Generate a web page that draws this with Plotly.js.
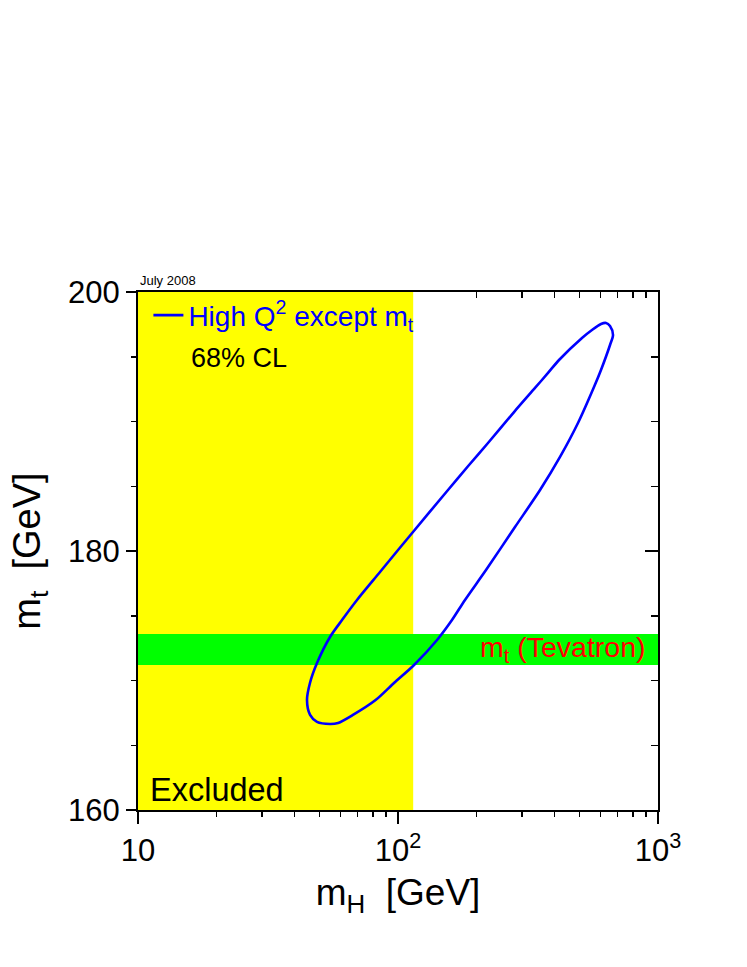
<!DOCTYPE html>
<html>
<head>
<meta charset="utf-8">
<script src="https://cdn.plot.ly/plotly-3.0.1.min.js"></script>
<style>html,body{margin:0;padding:0;background:#fff;}#plot{width:747px;height:967px;}</style>
</head>
<body>
<div id="plot"></div>
<script>
// Data (68% CL contour)
const contourMH = [44.67, 45.86, 48.81, 54.77, 60.91, 69.55, 85.27, 114.2, 155.7, 187.6, 221.9, 279.4, 336.5, 377.6, 416.2, 510.1, 557.3, 603.6, 631.0, 653.8, 671.4, 653.8, 603.6, 567.3, 492.3, 419.9, 351.8, 281.8, 218.0, 181.0, 161.3, 141.3, 115.3, 96.5, 82.0, 67.1, 58.8, 54.8, 48.8, 45.9];
const contourMT = [168.49, 169.81, 171.35, 173.36, 174.67, 176.22, 178.38, 181.47, 184.71, 186.64, 188.34, 190.73, 192.59, 193.75, 194.75, 196.45, 197.07, 197.53, 197.61, 197.37, 196.68, 195.91, 193.98, 192.66, 189.88, 187.26, 184.71, 181.85, 178.53, 176.22, 174.67, 173.13, 171.20, 169.81, 168.49, 167.34, 166.72, 166.64, 166.80, 167.34];
const excludedMH = [10, 114.4];       // LEP direct search exclusion
const mtRange = [160, 200];
const mHRange = [10, 1000];
const tevatronMt = 172.4;
const tevatronErr = 1.2;
const xTickVals = [10, 100, 1000];
const xTickText = ["10", "10<sup>2</sup>", "10<sup>3</sup>"];
const xMinorVals = [20, 30, 40, 50, 60, 70, 80, 90, 200, 300, 400, 500, 600, 700, 800, 900];
const yTickVals = [160, 180, 200];
const yTickText = ["160", "180", "200"];

const FONT = "Liberation Sans, Arial, Helvetica, sans-serif";

// close the contour
const cx = contourMH.concat([contourMH[0]]);
const cy = contourMT.concat([contourMT[0]]);

const traces = [
  { // excluded region
    x: [excludedMH[0], excludedMH[1], excludedMH[1], excludedMH[0], excludedMH[0]],
    y: [mtRange[0], mtRange[0], mtRange[1], mtRange[1], mtRange[0]],
    mode: "lines", fill: "toself", fillcolor: "#ffff00", line: {width: 0, color: "#ffff00"},
    showlegend: false, hoverinfo: "skip"
  },
  { // Tevatron band
    x: [mHRange[0], mHRange[1], mHRange[1], mHRange[0], mHRange[0]],
    y: [tevatronMt - tevatronErr, tevatronMt - tevatronErr, tevatronMt + tevatronErr, tevatronMt + tevatronErr, tevatronMt - tevatronErr],
    mode: "lines", fill: "toself", fillcolor: "#00ff00", line: {width: 0, color: "#00ff00"},
    showlegend: false, hoverinfo: "skip"
  },
  { // 68% CL contour
    x: cx, y: cy, mode: "lines",
    line: {color: "#0000ff", width: 2.6, shape: "spline", smoothing: 0.8},
    name: "High Q<sup>2</sup> except m<sub>t</sub>", showlegend: true
  },
  { x: [], y: [], xaxis: "x2", yaxis: "y", showlegend: false, hoverinfo: "skip" },
  { x: [], y: [], xaxis: "x", yaxis: "y2", showlegend: false, hoverinfo: "skip" }
];

const layout = {
  width: 747, height: 967,
  margin: {l: 138, r: 89, t: 292, b: 157},
  paper_bgcolor: "#fff", plot_bgcolor: "#fff",
  font: {family: FONT, color: "#000"},
  showlegend: true,
  legend: {x: 0.02, y: 1.003, xanchor: "left", yanchor: "top", bgcolor: "rgba(0,0,0,0)",
           font: {size: 28, color: "#0000ff", family: FONT}, itemwidth: 30},
  xaxis: {
    type: "log", range: [1, 3], showgrid: false, zeroline: false,
    showline: true, linecolor: "#000", linewidth: 2,
    ticks: "outside", ticklen: 12, tickwidth: 1.5, tickcolor: "#000",
    tickmode: "array", tickvals: xTickVals, ticktext: xTickText,
    tickfont: {size: 31, family: FONT},
    minor: {tickmode: "array", tickvals: xMinorVals, ticks: "outside", ticklen: 5, tickwidth: 1.5, tickcolor: "#000", showgrid: false},
    title: {text: "m<sub>H</sub>  [GeV]", font: {size: 37, family: FONT}, standoff: 12},
    automargin: false
  },
  xaxis2: {
    type: "log", range: [1, 3], overlaying: "x", side: "top", anchor: "y",
    showgrid: false, zeroline: false, showline: true, linecolor: "#000", linewidth: 2,
    ticks: "inside", ticklen: 12, tickwidth: 1.5, tickcolor: "#000",
    tickmode: "array", tickvals: xTickVals, showticklabels: false,
    minor: {tickmode: "array", tickvals: xMinorVals, ticks: "inside", ticklen: 6, tickwidth: 1.5, tickcolor: "#000", showgrid: false},
    layer: "below traces"
  },
  yaxis: {
    range: mtRange, showgrid: false, zeroline: false,
    showline: true, linecolor: "#000", linewidth: 2,
    ticks: "outside", ticklen: 10, tickwidth: 1.5, tickcolor: "#000",
    tickmode: "array", tickvals: yTickVals, ticktext: yTickText,
    tickfont: {size: 31, family: FONT},
    minor: {dtick: 5, ticks: "outside", ticklen: 5, tickwidth: 1.5, tickcolor: "#000", showgrid: false},
    title: {text: "m<sub>t</sub>  [GeV]", font: {size: 38, family: FONT}, standoff: 16},
    automargin: false
  },
  yaxis2: {
    range: mtRange, overlaying: "y", side: "right", anchor: "x",
    showgrid: false, zeroline: false, showline: true, linecolor: "#000", linewidth: 2,
    ticks: "inside", ticklen: 13, tickwidth: 1.5, tickcolor: "#000",
    tickmode: "array", tickvals: yTickVals, showticklabels: false,
    minor: {dtick: 5, ticks: "inside", ticklen: 7, tickwidth: 1.5, tickcolor: "#000", showgrid: false}
  },
  annotations: [
    {text: "68% CL", xref: "paper", yref: "paper", x: 0.098, y: 0.873, xanchor: "left", yanchor: "middle",
     showarrow: false, font: {size: 27, color: "#000", family: FONT}},
    {text: "Excluded", xref: "paper", yref: "paper", x: 0.02, y: 0.039, xanchor: "left", yanchor: "middle",
     showarrow: false, font: {size: 32.5, color: "#000", family: FONT}},
    {text: "m<sub>t</sub> (Tevatron)", xref: "paper", yref: "y", x: 0.98, y: tevatronMt, xanchor: "right", yanchor: "middle",
     showarrow: false, font: {size: 28.5, color: "#ff0000", family: FONT}},
    {text: "July 2008", xref: "paper", yref: "paper", x: 0.0, y: 1.003, xanchor: "left", yanchor: "bottom",
     showarrow: false, font: {size: 13, color: "#000", family: FONT}}
  ]
};

Plotly.newPlot("plot", traces, layout, {staticPlot: true, displayModeBar: false});
</script>
</body>
</html>
